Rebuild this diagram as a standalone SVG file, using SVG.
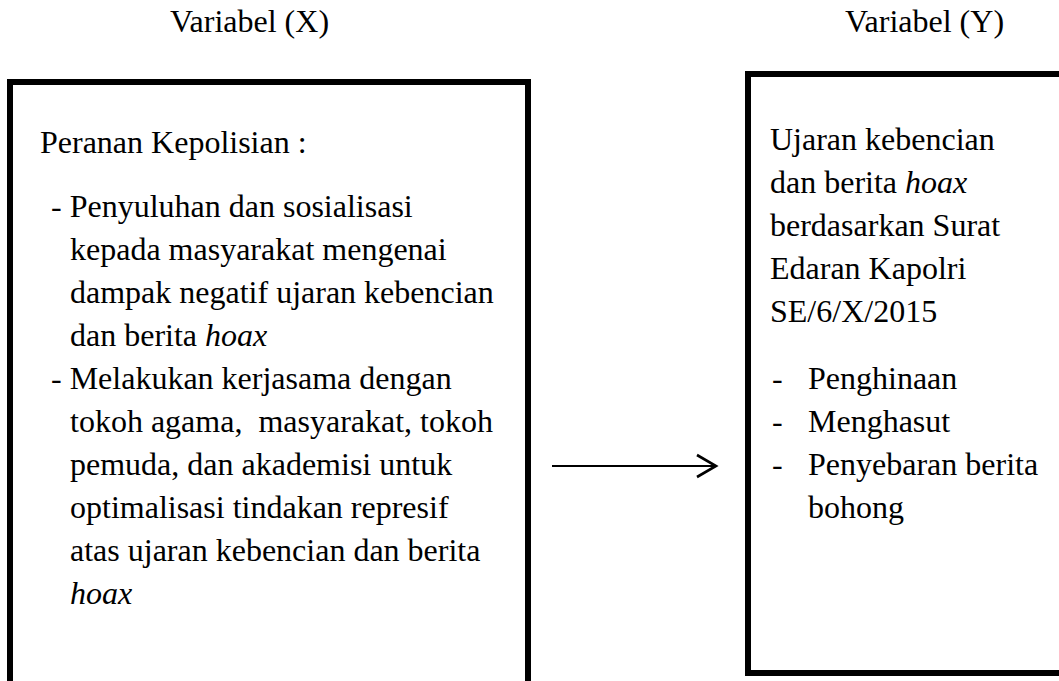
<svg xmlns="http://www.w3.org/2000/svg" width="1059" height="681" viewBox="0 0 1059 681">
<style>
  text { font-family: "Liberation Serif", "Times New Roman", serif; font-size: 32px; fill: #000; white-space: pre; }
  .box { fill: #fff; stroke: #000; stroke-width: 6; }
  .it { font-style: italic; }
  .conn { stroke: #000; stroke-width: 2.2; fill: none; }
</style>
<defs>
  <marker id="open" markerUnits="userSpaceOnUse" markerWidth="24" markerHeight="26" viewBox="0 0 24 26" refX="21" refY="13" orient="auto">
    <path d="M2,2 L21,13 L2,24" fill="none" stroke="#000" stroke-width="2.6"/>
  </marker>
</defs>
<rect width="1059" height="681" fill="#fff"/>
<g id="title-x"><text x="170" y="32">Variabel (X)</text></g>
<g id="title-y"><text x="845" y="32">Variabel (Y)</text></g>
<g id="node-x">
  <rect class="box" x="10" y="82" width="518" height="604"/>
  <text x="40" y="153">Peranan Kepolisian :</text>
  <text x="51" y="217">- Penyuluhan dan sosialisasi</text>
  <text x="70" y="260">kepada masyarakat mengenai</text>
  <text x="70" y="303">dampak negatif ujaran kebencian</text>
  <text x="70" y="346">dan berita <tspan class="it">hoax</tspan></text>
  <text x="51" y="389">- Melakukan kerjasama dengan</text>
  <text x="70" y="432">tokoh agama,  masyarakat, tokoh</text>
  <text x="70" y="475">pemuda, dan akademisi untuk</text>
  <text x="70" y="518">optimalisasi tindakan represif</text>
  <text x="70" y="561">atas ujaran kebencian dan berita</text>
  <text x="70" y="604" class="it">hoax</text>
</g>
<g id="node-y">
  <rect class="box" x="748" y="74" width="320" height="599"/>
  <text x="770" y="150">Ujaran kebencian</text>
  <text x="770" y="193">dan berita <tspan class="it">hoax</tspan></text>
  <text x="770" y="236">berdasarkan Surat</text>
  <text x="770" y="279">Edaran Kapolri</text>
  <text x="770" y="322">SE/6/X/2015</text>
  <text x="772" y="389">-</text><text x="808" y="389">Penghinaan</text>
  <text x="772" y="432">-</text><text x="808" y="432">Menghasut</text>
  <text x="772" y="475">-</text><text x="808" y="475">Penyebaran berita</text>
  <text x="808" y="518">bohong</text>
</g>
<g id="connectors">
  <line class="conn" x1="552" y1="466" x2="716" y2="466" marker-end="url(#open)"/>
</g>
</svg>
